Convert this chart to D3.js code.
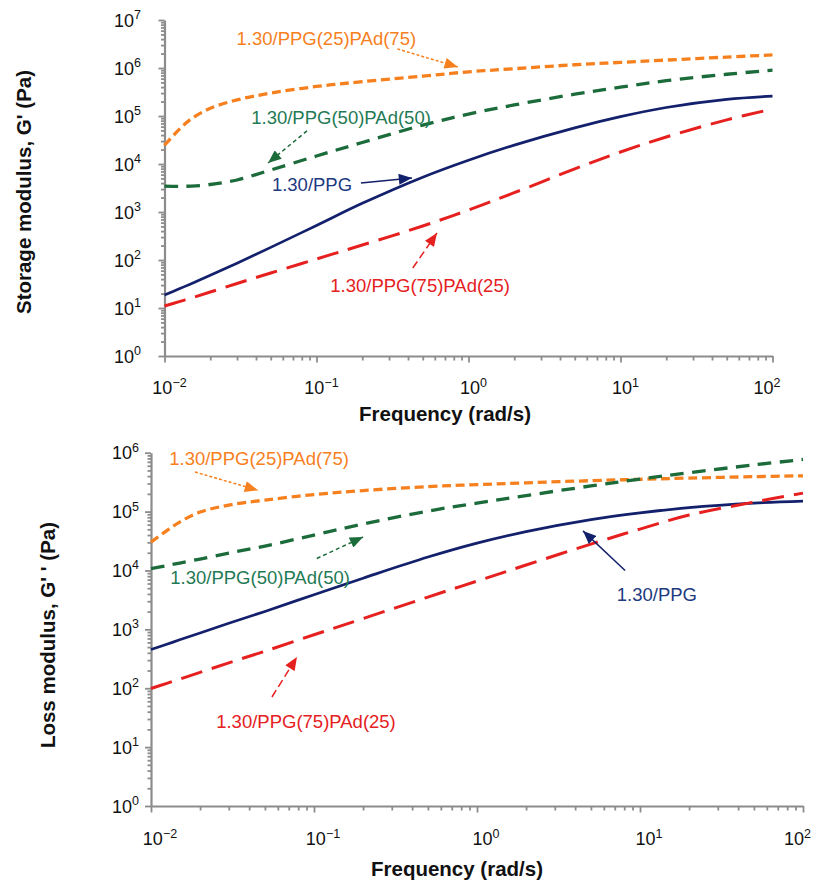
<!DOCTYPE html>
<html>
<head>
<meta charset="utf-8">
<script src="https://cdn.jsdelivr.net/npm/d3@7"></script>
<style>
  body { margin: 0; background: #fff; }
  svg { display: block; }
  text { font-family: "Liberation Sans", Arial, Helvetica, sans-serif; }
</style>
</head>
<body>
<svg id="chart" width="813" height="886"></svg>
<script>
// Angular frequency (rad/s) at which both moduli are sampled
const freq = [0.01, 0.0125, 0.015, 0.02, 0.03, 0.05, 0.1, 0.2, 0.5, 1, 2, 5, 10, 20, 50, 100];

const seriesNames = ["1.30/PPG(25)PAd(75)", "1.30/PPG(50)PAd(50)", "1.30/PPG", "1.30/PPG(75)PAd(25)"];

// Storage modulus G' (Pa)
const storagePAd75 = [24550, 52480, 87100, 144500, 216300, 300600, 412100, 518800, 676100, 831800, 966100, 1169000, 1309000, 1462000, 1687000, 1875000];
const storagePAd50 = [3467, 3428, 3467, 3741, 4645, 7499, 14690, 28050, 64570, 109600, 169800, 285100, 398100, 543300, 741300, 901600];
const storagePPG   = [18.6, 25.1, 32.1, 47.9, 85.7, 183, 525, 1517, 5321, 12020, 24720, 56620, 96830, 150300, 221800, 259400];
const storagePAd25 = [11.0, 13.6, 16.1, 21.5, 32.4, 53.6, 105, 205, 511, 1102, 2523, 7907, 17780, 36520, 82990, 140000];

// Loss modulus G'' (Pa)
const lossPAd75 = [30340, 47530, 66370, 98170, 128800, 156700, 194500, 227500, 265500, 287100, 308300, 335000, 353200, 370700, 391700, 405500];
const lossPAd50 = [10770, 12110, 13370, 15630, 19720, 25940, 39900, 61380, 101900, 139300, 187100, 272900, 356500, 457100, 620900, 767400];
const lossPPG   = [454, 558, 664, 865, 1265, 2014, 3882, 7396, 16900, 29170, 45710, 73110, 95060, 117000, 139300, 150700];
const lossPAd25 = [98.9, 121, 143, 186, 270, 425, 809, 1524, 3532, 6607, 12360, 28050, 50470, 87300, 144900, 206000];

// Decade exponents used as major tick labels
const freqExponents = [-2, -1, 0, 1, 2];
const storageExponents = [0, 1, 2, 3, 4, 5, 6, 7];
const lossExponents = [0, 1, 2, 3, 4, 5, 6];

// Callout placement, in data units [frequency, modulus]
const storageLabelAt   = [[0.116, 4.2e6], [0.145, 9.5e4], [0.0934, 3.8e3], [0.48, 30]];
const storageArrowFrom = [[0.34, 2.5e6], [0.0866, 4.9e4], [0.196, 4.0e3], [0.43, 68]];
const storageArrowTo   = [[0.85, 1.05e6], [0.048, 1.05e4], [0.425, 5.1e3], [0.62, 365]];

const lossLabelAt   = [[0.046, 8.1e5], [0.0467, 7.7e3], [12.7, 4.0e3], [0.0893, 27]];
const lossArrowFrom = [[0.0186, 4.7e5], [0.104, 1.6e4], [8.1, 1.0e4], [0.0552, 71]];
const lossArrowTo   = [[0.0453, 2.3e5], [0.2, 3.7e4], [4.47, 4.7e4], [0.0786, 339]];

// Line styles per series
const seriesStyle = [
  { color: "#F7801E", text: "#F7801E", dash: "9,4.7",    width: 3.3, arrowDash: "3,2" },
  { color: "#1C6B3A", text: "#1F7A55", dash: "13.5,8.5", width: 3.3, arrowDash: "4,3" },
  { color: "#13206B", text: "#1D3A80", dash: null,       width: 2.7, arrowDash: null },
  { color: "#E5201E", text: "#E5201E", dash: "22,10",    width: 3.0, arrowDash: "8,4" }
];

const svg = d3.select("#chart");
svg.append("rect").attr("width", 813).attr("height", 886).attr("fill", "#fff");

const defs = svg.append("defs");
seriesStyle.forEach((s, i) => {
  defs.append("marker")
    .attr("id", "head" + i)
    .attr("viewBox", "0 0 12 10")
    .attr("refX", 12).attr("refY", 5)
    .attr("markerUnits", "userSpaceOnUse")
    .attr("markerWidth", 14).attr("markerHeight", 11)
    .attr("orient", "auto")
    .append("path")
    .attr("d", "M0,0 L12,5 L0,10 Z")
    .attr("fill", s.color);
});

const axisColor = "#8c8c8c";

function minorTicks(lo, hi) {
  const out = [];
  for (let e = lo; e < hi; e++) {
    for (let m = 2; m <= 9; m++) out.push(m * Math.pow(10, e));
  }
  return out;
}
function majorTicks(lo, hi) {
  const out = [];
  for (let e = lo; e <= hi; e++) out.push(Math.pow(10, e));
  return out;
}

function powerLabel(sel, exp) {
  sel.append("tspan").text("10");
  sel.append("tspan")
    .attr("font-size", 12.5)
    .attr("dy", -7.5)
    .text(exp < 0 ? "\u2212" + Math.abs(exp) : String(exp));
}

function drawPanel(p) {
  const g = svg.append("g");
  const x = d3.scaleLog().domain([1e-2, 1e2]).range(p.xRange);
  const yLo = p.yExponents[0], yHi = p.yExponents[p.yExponents.length - 1];
  const y = d3.scaleLog().domain([Math.pow(10, yLo), Math.pow(10, yHi)]).range(p.yRange);

  // y axis: minor ticks carry the domain line, majors are a little longer
  const yAxisG = g.append("g").attr("transform", `translate(${p.xRange[0]},0)`);
  yAxisG.call(d3.axisLeft(y).tickValues(minorTicks(yLo, yHi)).tickSize(3.5).tickSizeOuter(0).tickFormat(""));
  const yMajorG = g.append("g").attr("transform", `translate(${p.xRange[0]},0)`);
  yMajorG.call(d3.axisLeft(y).tickValues(majorTicks(yLo, yHi)).tickSize(6).tickSizeOuter(0).tickFormat(""));
  yMajorG.select(".domain").remove();

  // x axis
  const xAxisG = g.append("g").attr("transform", `translate(0,${p.yRange[0]})`);
  xAxisG.call(d3.axisBottom(x).tickValues(minorTicks(-2, 2)).tickSize(4.5).tickSizeOuter(0).tickFormat(""));
  const xMajorG = g.append("g").attr("transform", `translate(0,${p.yRange[0]})`);
  xMajorG.call(d3.axisBottom(x).tickValues(majorTicks(-2, 2)).tickSize(6.5).tickSizeOuter(0).tickFormat(""));
  xMajorG.select(".domain").remove();

  g.selectAll(".domain").attr("stroke", axisColor).attr("stroke-width", 2.2);
  g.selectAll(".tick line").attr("stroke", axisColor).attr("stroke-width", 1.8);

  // tick labels
  p.yExponents.forEach(e => {
    const t = g.append("text")
      .attr("x", p.yLabelX)
      .attr("y", y(Math.pow(10, e)) + 6.5)
      .attr("text-anchor", "end")
      .attr("font-size", 18)
      .attr("fill", "#111");
    powerLabel(t, e);
  });
  freqExponents.forEach((e, k) => {
    const last = k === freqExponents.length - 1;
    const t = g.append("text")
      .attr("x", last ? p.xRange[1] + 8 : x(Math.pow(10, e)) + p.xLabelShift)
      .attr("y", p.yRange[0] + p.xLabelDy)
      .attr("text-anchor", last ? "end" : "middle")
      .attr("font-size", 18)
      .attr("fill", "#111");
    powerLabel(t, e);
  });

  // axis titles
  g.append("text")
    .attr("transform", `translate(${p.yTitlePos[0]},${p.yTitlePos[1]}) rotate(-90)`)
    .attr("text-anchor", "middle")
    .attr("font-size", 20.5)
    .attr("font-weight", "bold")
    .attr("fill", "#111")
    .text(p.yTitle);
  g.append("text")
    .attr("x", p.xTitlePos[0]).attr("y", p.xTitlePos[1])
    .attr("text-anchor", "middle")
    .attr("font-size", 20.5)
    .attr("font-weight", "bold")
    .attr("fill", "#111")
    .text("Frequency (rad/s)");

  // curves
  const line = d3.line()
    .x(d => x(d[0]))
    .y(d => y(d[1]))
    .curve(d3.curveCatmullRom.alpha(0.5));
  p.series.forEach((vals, i) => {
    const s = seriesStyle[i];
    g.append("path")
      .datum(freq.map((f, k) => [f, vals[k]]))
      .attr("d", line)
      .attr("fill", "none")
      .attr("stroke", s.color)
      .attr("stroke-width", s.width)
      .attr("stroke-dasharray", s.dash)
      .attr("stroke-linecap", "butt");
  });

  // callouts
  seriesNames.forEach((name, i) => {
    const s = seriesStyle[i];
    const a = p.arrowFrom[i], b = p.arrowTo[i];
    g.append("line")
      .attr("x1", x(a[0])).attr("y1", y(a[1]))
      .attr("x2", x(b[0])).attr("y2", y(b[1]))
      .attr("stroke", s.color)
      .attr("stroke-width", 1.5)
      .attr("stroke-dasharray", s.arrowDash)
      .attr("marker-end", `url(#head${i})`);
    const l = p.labelAt[i];
    g.append("text")
      .attr("x", x(l[0])).attr("y", y(l[1]))
      .attr("dy", "0.36em")
      .attr("text-anchor", "middle")
      .attr("font-size", 18.5)
      .attr("fill", s.text)
      .text(name);
  });
}

drawPanel({
  xRange: [164.5, 772.5],
  yRange: [356, 20],
  yExponents: storageExponents,
  yLabelX: 141,
  xLabelDy: 38,
  xLabelShift: 5,
  yTitle: "Storage modulus, G' (Pa)",
  yTitlePos: [31, 192],
  xTitlePos: [445, 421],
  series: [storagePAd75, storagePAd50, storagePPG, storagePAd25],
  labelAt: storageLabelAt,
  arrowFrom: storageArrowFrom,
  arrowTo: storageArrowTo
});

drawPanel({
  xRange: [151, 803],
  yRange: [806, 452.7],
  yExponents: lossExponents,
  yLabelX: 139,
  xLabelDy: 39,
  xLabelShift: 9,
  yTitle: "Loss modulus, G' ' (Pa)",
  yTitlePos: [55, 635],
  xTitlePos: [457, 876],
  series: [lossPAd75, lossPAd50, lossPPG, lossPAd25],
  labelAt: lossLabelAt,
  arrowFrom: lossArrowFrom,
  arrowTo: lossArrowTo
});
</script>
</body>
</html>
